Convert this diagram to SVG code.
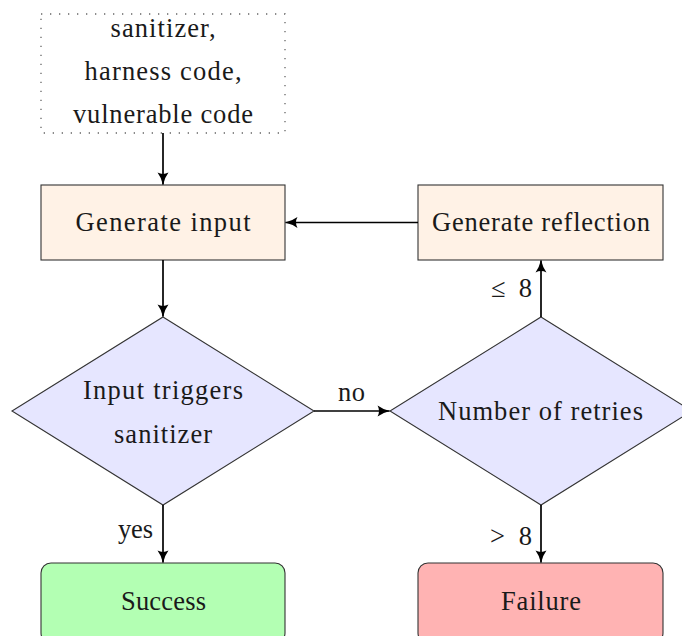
<svg xmlns="http://www.w3.org/2000/svg" width="682" height="636" viewBox="0 0 682 636">
<style>
text{font-family:"Liberation Serif","DejaVu Serif",serif;font-size:26.5px;fill:#1a1a1a;text-anchor:middle}
.box{stroke:#333;stroke-width:1.1}
.proc{fill:#FFF2E6}
.dec{fill:#E6E6FF}
.ok{fill:#B3FFB3}
.bad{fill:#FFB3B3}
.edge{fill:none;stroke:#000;stroke-width:1.7;marker-end:url(#ah)}
</style>
<defs>
<marker id="ah" markerUnits="userSpaceOnUse" markerWidth="13" markerHeight="13" viewBox="0 0 10 10" refX="9.5" refY="5" orient="auto">
<path d="M0.3,0.8 Q4,3.6 9.8,5 Q4,6.4 0.3,9.2 Q2.6,5 0.3,0.8 z" fill="#000"/>
</marker>
</defs>
<rect width="682" height="636" fill="#fff"/>
<g id="inputs">
<rect x="41" y="14" width="244" height="119" fill="none" stroke="#666" stroke-width="1.3" stroke-dasharray="1.3 7.7"/>
<text x="163" y="37" textLength="105">sanitizer,</text>
<text x="163" y="80" textLength="157">harness code,</text>
<text x="163" y="123" textLength="180">vulnerable code</text>
</g>
<g id="gen-input">
<rect class="box proc" x="41" y="185" width="244" height="75"/>
<text x="163" y="231" textLength="175">Generate input</text>
</g>
<g id="gen-reflection">
<rect class="box proc" x="418" y="185" width="245" height="75"/>
<text x="541" y="231" textLength="218">Generate reflection</text>
</g>
<g id="triggers">
<polygon class="box dec" points="163,317 314,411 163,505 12,411"/>
<text x="163" y="399" textLength="160">Input triggers</text>
<text x="163" y="443" textLength="98">sanitizer</text>
</g>
<g id="retries">
<polygon class="box dec" points="541,317 692,411 541,505 390,411"/>
<text x="540.5" y="420" textLength="205">Number of retries</text>
</g>
<g id="success">
<rect class="box ok" x="41" y="563" width="244" height="80" rx="10"/>
<text x="163.5" y="610" textLength="85">Success</text>
</g>
<g id="failure">
<rect class="box bad" x="418" y="563" width="245" height="80" rx="10"/>
<text x="541" y="610" textLength="80">Failure</text>
</g>
<g id="connectors">
<line class="edge" x1="163" y1="133" x2="163" y2="184.5"/>
<line class="edge" x1="163" y1="260" x2="163" y2="316.5"/>
<line class="edge" x1="418" y1="222.5" x2="285.5" y2="222.5"/>
<line class="edge" x1="314" y1="411" x2="389.5" y2="411"/>
<line class="edge" x1="541" y1="317" x2="541" y2="260.5"/>
<line class="edge" x1="163" y1="505" x2="163" y2="562.5"/>
<line class="edge" x1="541" y1="505" x2="541" y2="562.5"/>
<text x="351.5" y="401" textLength="27">no</text>
<text x="511.5" y="297" textLength="41">≤ 8</text>
<text x="135.5" y="538" textLength="35">yes</text>
<text x="511" y="545" textLength="42">&gt; 8</text>
</g>
</svg>
